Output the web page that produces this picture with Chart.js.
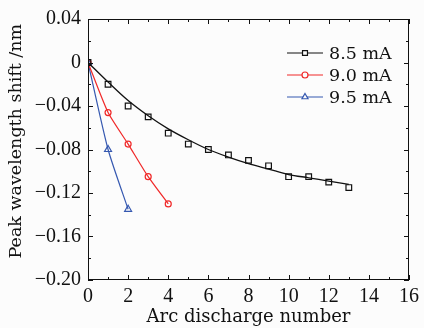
<!DOCTYPE html>
<html>
<head>
<meta charset="utf-8">
<script src="https://cdn.jsdelivr.net/npm/chart.js@4"></script>
<style>
  html, body { margin: 0; padding: 0; background: #fcfcfc; }
  #wrap { width: 424px; height: 328px; }
</style>
</head>
<body>
<div id="wrap"><canvas id="myChart" width="424" height="328"></canvas></div>
<script>
const seriesLabels = ["8.5 mA", "9.0 mA", "9.5 mA"];
const seriesColors = ["#111111", "#f02828", "#3558b0"];

// measured points
const x85 = [0, 1, 2, 3, 4, 5, 6, 7, 8, 9, 10, 11, 12, 13];
const y85 = [0, -0.020, -0.040, -0.050, -0.065, -0.075, -0.080, -0.085, -0.090, -0.095, -0.105, -0.105, -0.110, -0.115];
const x90 = [0, 1, 2, 3, 4];
const y90 = [0, -0.046, -0.075, -0.105, -0.130];
const x95 = [0, 1, 2];
const y95 = [0, -0.080, -0.135];

// fitted curve for 8.5 mA
const fitX85 = [0, 1, 2, 3, 4, 5, 6, 7, 8, 9, 10, 11, 12, 13];
const fitY85 = [0, -0.018, -0.035, -0.049, -0.061, -0.071, -0.080, -0.087, -0.093, -0.098, -0.103, -0.106, -0.109, -0.112];

const xTicks = [0, 2, 4, 6, 8, 10, 12, 14, 16];
const yTicks = [0.04, 0, -0.04, -0.08, -0.12, -0.16, -0.20];

const titleFont = "'DejaVu Serif', 'Liberation Serif', serif";
const tickFont = "'Liberation Serif', 'DejaVu Serif', serif";

function toPoints(xs, ys) {
  return xs.map((x, i) => ({ x: x, y: ys[i] }));
}

function fmtY(v) {
  if (Math.abs(v) < 1e-9) return "0";
  const s = Math.abs(v).toFixed(2);
  return v < 0 ? "\u2212" + s : s;
}

const frameTicks = {
  id: "frameTicks",
  afterDraw(chart) {
    const ctx = chart.ctx;
    const a = chart.chartArea;
    const xs = chart.scales.x;
    const ys = chart.scales.y;
    ctx.save();
    ctx.strokeStyle = "#111";
    ctx.lineWidth = 1;
    ctx.strokeRect(a.left + 0.5, a.top + 0.5, a.right - a.left - 1, a.bottom - a.top - 1);
    ctx.beginPath();
    for (let v = 0; v <= 16; v++) {
      const px = Math.round(xs.getPixelForValue(v)) + 0.5;
      const len = v % 2 === 0 ? 5 : 3;
      ctx.moveTo(px, a.bottom);
      ctx.lineTo(px, a.bottom - len);
      ctx.moveTo(px, a.top);
      ctx.lineTo(px, a.top + len);
    }
    for (let k = 0; k <= 12; k++) {
      const v = -0.20 + k * 0.02;
      const py = Math.round(ys.getPixelForValue(v)) + 0.5;
      const len = k % 2 === 0 ? 5 : 3;
      ctx.moveTo(a.left, py);
      ctx.lineTo(a.left + len, py);
      ctx.moveTo(a.right, py);
      ctx.lineTo(a.right - len, py);
    }
    ctx.stroke();

    // legend
    const rows = [
      { style: "rect", r: 3.5 },
      { style: "circle", r: 3 },
      { style: "triangle", r: 3.5 }
    ];
    const lx = 287, lw = 36, tx = 329;
    const rowY = [53, 75, 97];
    ctx.font = "17.5px " + titleFont;
    ctx.textBaseline = "middle";
    rows.forEach((row, i) => {
      const y = rowY[i];
      ctx.strokeStyle = seriesColors[i];
      ctx.lineWidth = 1.2;
      ctx.beginPath();
      ctx.moveTo(lx, y);
      ctx.lineTo(lx + lw, y);
      ctx.stroke();
      ctx.fillStyle = "#fcfcfc";
      Chart.helpers.drawPoint(ctx, { pointStyle: row.style, radius: row.r, borderWidth: 1.2 }, lx + lw / 2, y);
      ctx.fillStyle = "#111";
      ctx.fillText(seriesLabels[i], tx, y + 1);
    });
    ctx.restore();
  }
};

const config = {
  type: "scatter",
  data: {
    datasets: [
      {
        label: "fit",
        data: toPoints(fitX85, fitY85),
        showLine: true,
        borderColor: seriesColors[0],
        borderWidth: 1.3,
        pointRadius: 0,
        cubicInterpolationMode: "monotone"
      },
      {
        label: seriesLabels[0],
        data: toPoints(x85, y85),
        showLine: false,
        pointStyle: "rect",
        pointRadius: 4,
        borderColor: seriesColors[0],
        backgroundColor: "rgba(0,0,0,0)",
        pointBorderWidth: 1.2
      },
      {
        label: seriesLabels[1],
        data: toPoints(x90, y90),
        showLine: true,
        tension: 0.2,
        pointStyle: "circle",
        pointRadius: 3,
        borderColor: seriesColors[1],
        backgroundColor: "rgba(0,0,0,0)",
        borderWidth: 1.2,
        pointBorderWidth: 1.2
      },
      {
        label: seriesLabels[2],
        data: toPoints(x95, y95),
        showLine: true,
        tension: 0.2,
        pointStyle: "triangle",
        pointRadius: 4,
        borderColor: seriesColors[2],
        backgroundColor: "rgba(0,0,0,0)",
        borderWidth: 1.2,
        pointBorderWidth: 1.2
      }
    ]
  },
  options: {
    responsive: false,
    animation: false,
    layout: { padding: { top: 17, right: 10, left: 0, bottom: 0 } },
    plugins: { legend: { display: false }, tooltip: { enabled: false } },
    scales: {
      x: {
        type: "linear",
        min: 0,
        max: 16,
        afterBuildTicks: (scale) => { scale.ticks = xTicks.map(v => ({ value: v })); },
        afterFit: (scale) => { scale.height = 48; },
        grid: { display: false, drawTicks: false, tickLength: 0 },
        border: { display: false },
        ticks: { color: "#111", padding: 5, font: { family: tickFont, size: 20 }, maxRotation: 0 },
        title: { display: true, text: "Arc discharge number", color: "#111", padding: { top: 0, bottom: 0 }, font: { family: titleFont, size: 18 } }
      },
      y: {
        type: "linear",
        min: -0.20,
        max: 0.04,
        afterBuildTicks: (scale) => { scale.ticks = yTicks.map(v => ({ value: v })); },
        afterFit: (scale) => { scale.width = 88; },
        grid: { display: false, drawTicks: false, tickLength: 0 },
        border: { display: false },
        ticks: { color: "#111", padding: 7, font: { family: tickFont, size: 20 }, callback: (v) => fmtY(v) },
        title: { display: true, text: "   Peak wavelength shift /nm", color: "#111", padding: { top: 6, bottom: 2 }, font: { family: titleFont, size: 17.5 } }
      }
    }
  },
  plugins: [frameTicks]
};

const myChart = new Chart(document.getElementById("myChart"), config);
</script>
</body>
</html>
